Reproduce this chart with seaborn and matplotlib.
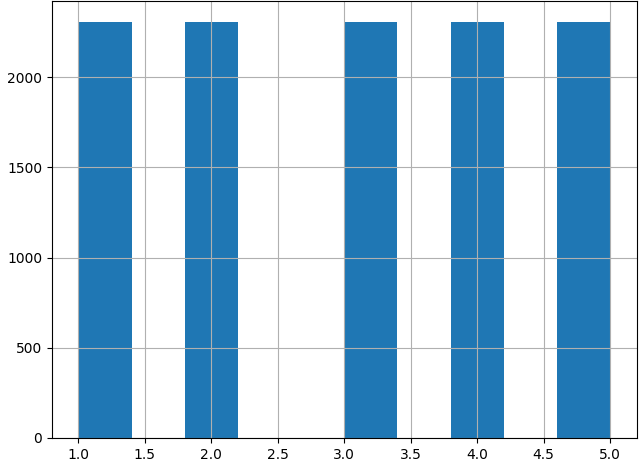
import matplotlib
matplotlib.use("Agg")
import matplotlib.pyplot as plt
import seaborn as sns
import pandas as pd

values = [1, 2, 3, 4, 5]
counts = [2305, 2305, 2305, 2305, 2305]

df = pd.DataFrame({"value": values, "count": counts})

fig = plt.figure(figsize=(6.4, 4.62), dpi=100)
ax = fig.add_axes([0.081, 0.052, 0.914, 0.945])
sns.histplot(data=df, x="value", weights="count", bins=10, binrange=(1, 5),
             color="#1f77b4", alpha=1, linewidth=0, ax=ax)
ax.grid(True, color="#b0b0b0", linewidth=0.8)
ax.set_xlabel("")
ax.set_ylabel("")
ax.set_xticks([1.0, 1.5, 2.0, 2.5, 3.0, 3.5, 4.0, 4.5, 5.0])
ax.set_yticks([0, 500, 1000, 1500, 2000])
fig.savefig("out.png", dpi=100)
